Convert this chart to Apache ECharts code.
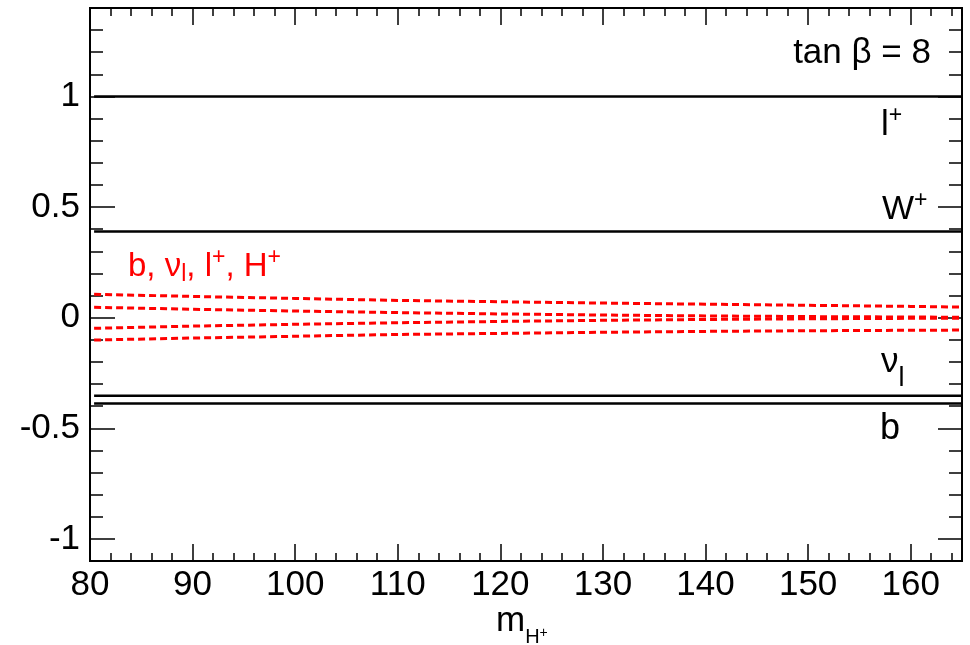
<!DOCTYPE html>
<html><head><meta charset="utf-8">
<script src="https://cdn.jsdelivr.net/npm/echarts@6/dist/echarts.min.js"></script>
<style>html,body{margin:0;padding:0;background:#fff}#c{width:970px;height:645px}</style>
</head><body><div id="c"></div>
<script>
// ---- data ----
const mass = [80.4, 90, 100, 110, 120, 130, 140, 150, 160, 165];
const leptonPlus = [1, 1, 1, 1, 1, 1, 1, 1, 1, 1];
const wPlus = [0.39, 0.39, 0.39, 0.39, 0.39, 0.39, 0.39, 0.39, 0.39, 0.39];
const neutrino = [-0.353, -0.353, -0.353, -0.353, -0.353, -0.353, -0.353, -0.353, -0.353, -0.353];
const bQuark = [-0.388, -0.388, -0.388, -0.388, -0.388, -0.388, -0.388, -0.388, -0.388, -0.388];
const red1 = [0.106, 0.096, 0.087, 0.078, 0.072, 0.066, 0.061, 0.056, 0.051, 0.048];
const red2 = [0.047, 0.038, 0.030, 0.023, 0.017, 0.012, 0.008, 0.005, 0.003, 0.002];
const red3 = [-0.048, -0.038, -0.030, -0.023, -0.017, -0.012, -0.008, -0.005, -0.003, -0.002];
const red4 = [-0.101, -0.092, -0.084, -0.076, -0.071, -0.066, -0.062, -0.059, -0.057, -0.056];
const xMajor = [80, 90, 100, 110, 120, 130, 140, 150, 160];
const xMinor = [82, 84, 86, 88, 92, 94, 96, 98, 102, 104, 106, 108, 112, 114, 116, 118, 122, 124, 126, 128, 132, 134, 136, 138, 142, 144, 146, 148, 152, 154, 156, 158, 162, 164];
const yMajor = [-1, -0.5, 0, 0.5, 1];
const yMinor = [-0.9, -0.8, -0.7, -0.6, -0.4, -0.3, -0.2, -0.1, 0.1, 0.2, 0.3, 0.4, 0.6, 0.7, 0.8, 0.9, 1.1, 1.2, 1.3];
const xRange = [80, 165];
const yRange = [-1.1, 1.4];

// ---- helpers ----
const FONT = '"Liberation Sans", Arial, Helvetica, sans-serif';
const ctx = document.createElement('canvas').getContext('2d');
function run(x, base, parts, color, alignRight) {
  const widths = parts.map(p => { ctx.font = p[1] + 'px ' + FONT; return ctx.measureText(p[0]).width; });
  const total = widths.reduce((a, b) => a + b, 0);
  let cx = alignRight ? x - total : x;
  const els = [];
  parts.forEach((p, i) => {
    els.push({
      type: 'text', x: cx, y: base + p[2] - 0.3465 * p[1], silent: true,
      style: { text: p[0], fill: color, font: p[1] + 'px ' + FONT, align: 'left', verticalAlign: 'middle', textAlign: 'left', textVerticalAlign: 'middle' }
    });
    cx += widths[i];
  });
  return els;
}
const LINE = { color: '#000', width: 2 };
const TICK = { color: '#000', width: 1.5 };
function xAx(grid, pos, ticks, len, labels) {
  return {
    type: 'value', gridIndex: grid, position: pos, min: xRange[0], max: xRange[1],
    axisLine: { show: true, onZero: false, lineStyle: LINE },
    axisTick: { show: true, inside: true, length: len, customValues: ticks, lineStyle: TICK },
    axisLabel: labels ? { show: true, customValues: ticks, fontSize: 35, color: '#000', fontFamily: FONT, margin: 7 } : { show: false },
    splitLine: { show: false }, minorTick: { show: false }
  };
}
function yAx(grid, pos, ticks, len, labels) {
  return {
    type: 'value', gridIndex: grid, position: pos, min: yRange[0], max: yRange[1],
    axisLine: { show: true, onZero: false, lineStyle: LINE },
    axisTick: { show: true, inside: true, length: len, customValues: ticks, lineStyle: TICK },
    axisLabel: labels ? { show: true, customValues: ticks, fontSize: 35, color: '#000', fontFamily: FONT, margin: 10, padding: [10, 0, 0, 0] } : { show: false },
    splitLine: { show: false }, minorTick: { show: false }
  };
}
const zip = (xs, ys) => xs.map((x, i) => [x, ys[i]]);
function solid(d) {
  return { type: 'line', xAxisIndex: 0, yAxisIndex: 0, data: zip(mass, d), symbol: 'none', silent: true,
    lineStyle: { color: '#000', width: 2.5 } };
}
function dashed(d) {
  return { type: 'line', xAxisIndex: 0, yAxisIndex: 0, data: zip(mass, d), symbol: 'none', silent: true,
    lineStyle: { color: '#ff0000', width: 3, type: [7, 4] } };
}

const G = { left: 90, top: 8, right: 8, bottom: 84 };
const graphics = [].concat(
  run(931, 65, [['tan β = 8', 35, 0]], '#000', true),
  run(881, 137, [['l', 35, 0], ['+', 23, -13]], '#000'),
  run(882, 221, [['W', 34, 0], ['+', 23, -12]], '#000'),
  run(881, 374, [['ν', 35, 0], ['l', 27, 14]], '#000'),
  run(880, 442, [['b', 36, 0]], '#000'),
  run(128, 278, [['b, ν', 33, 0], ['l', 23, 5], [', l', 33, 0], ['+', 23, -12], [', H', 33, 0], ['+', 23, -12]], '#ff0000'),
  run(496, 633, [['m', 35, 0], ['H', 20, 11], ['+', 14, 5]], '#000')
);

const chart = echarts.init(document.getElementById('c'), null, { renderer: 'canvas' });
chart.setOption({
  animation: false,
  backgroundColor: '#fff',
  grid: [Object.assign({}, G), Object.assign({}, G)],
  xAxis: [xAx(0, 'bottom', xMajor, 17, true), xAx(0, 'top', xMajor, 17, false),
          xAx(1, 'bottom', xMinor, 8, false), xAx(1, 'top', xMinor, 8, false)],
  yAxis: [yAx(0, 'left', yMajor, 25, true), yAx(0, 'right', yMajor, 24, false),
          yAx(1, 'left', yMinor, 13, false), yAx(1, 'right', yMinor, 13, false)],
  series: [solid(leptonPlus), solid(wPlus), solid(neutrino), solid(bQuark),
           dashed(red1), dashed(red2), dashed(red3), dashed(red4)],
  graphic: graphics
});
</script>
</body></html>
